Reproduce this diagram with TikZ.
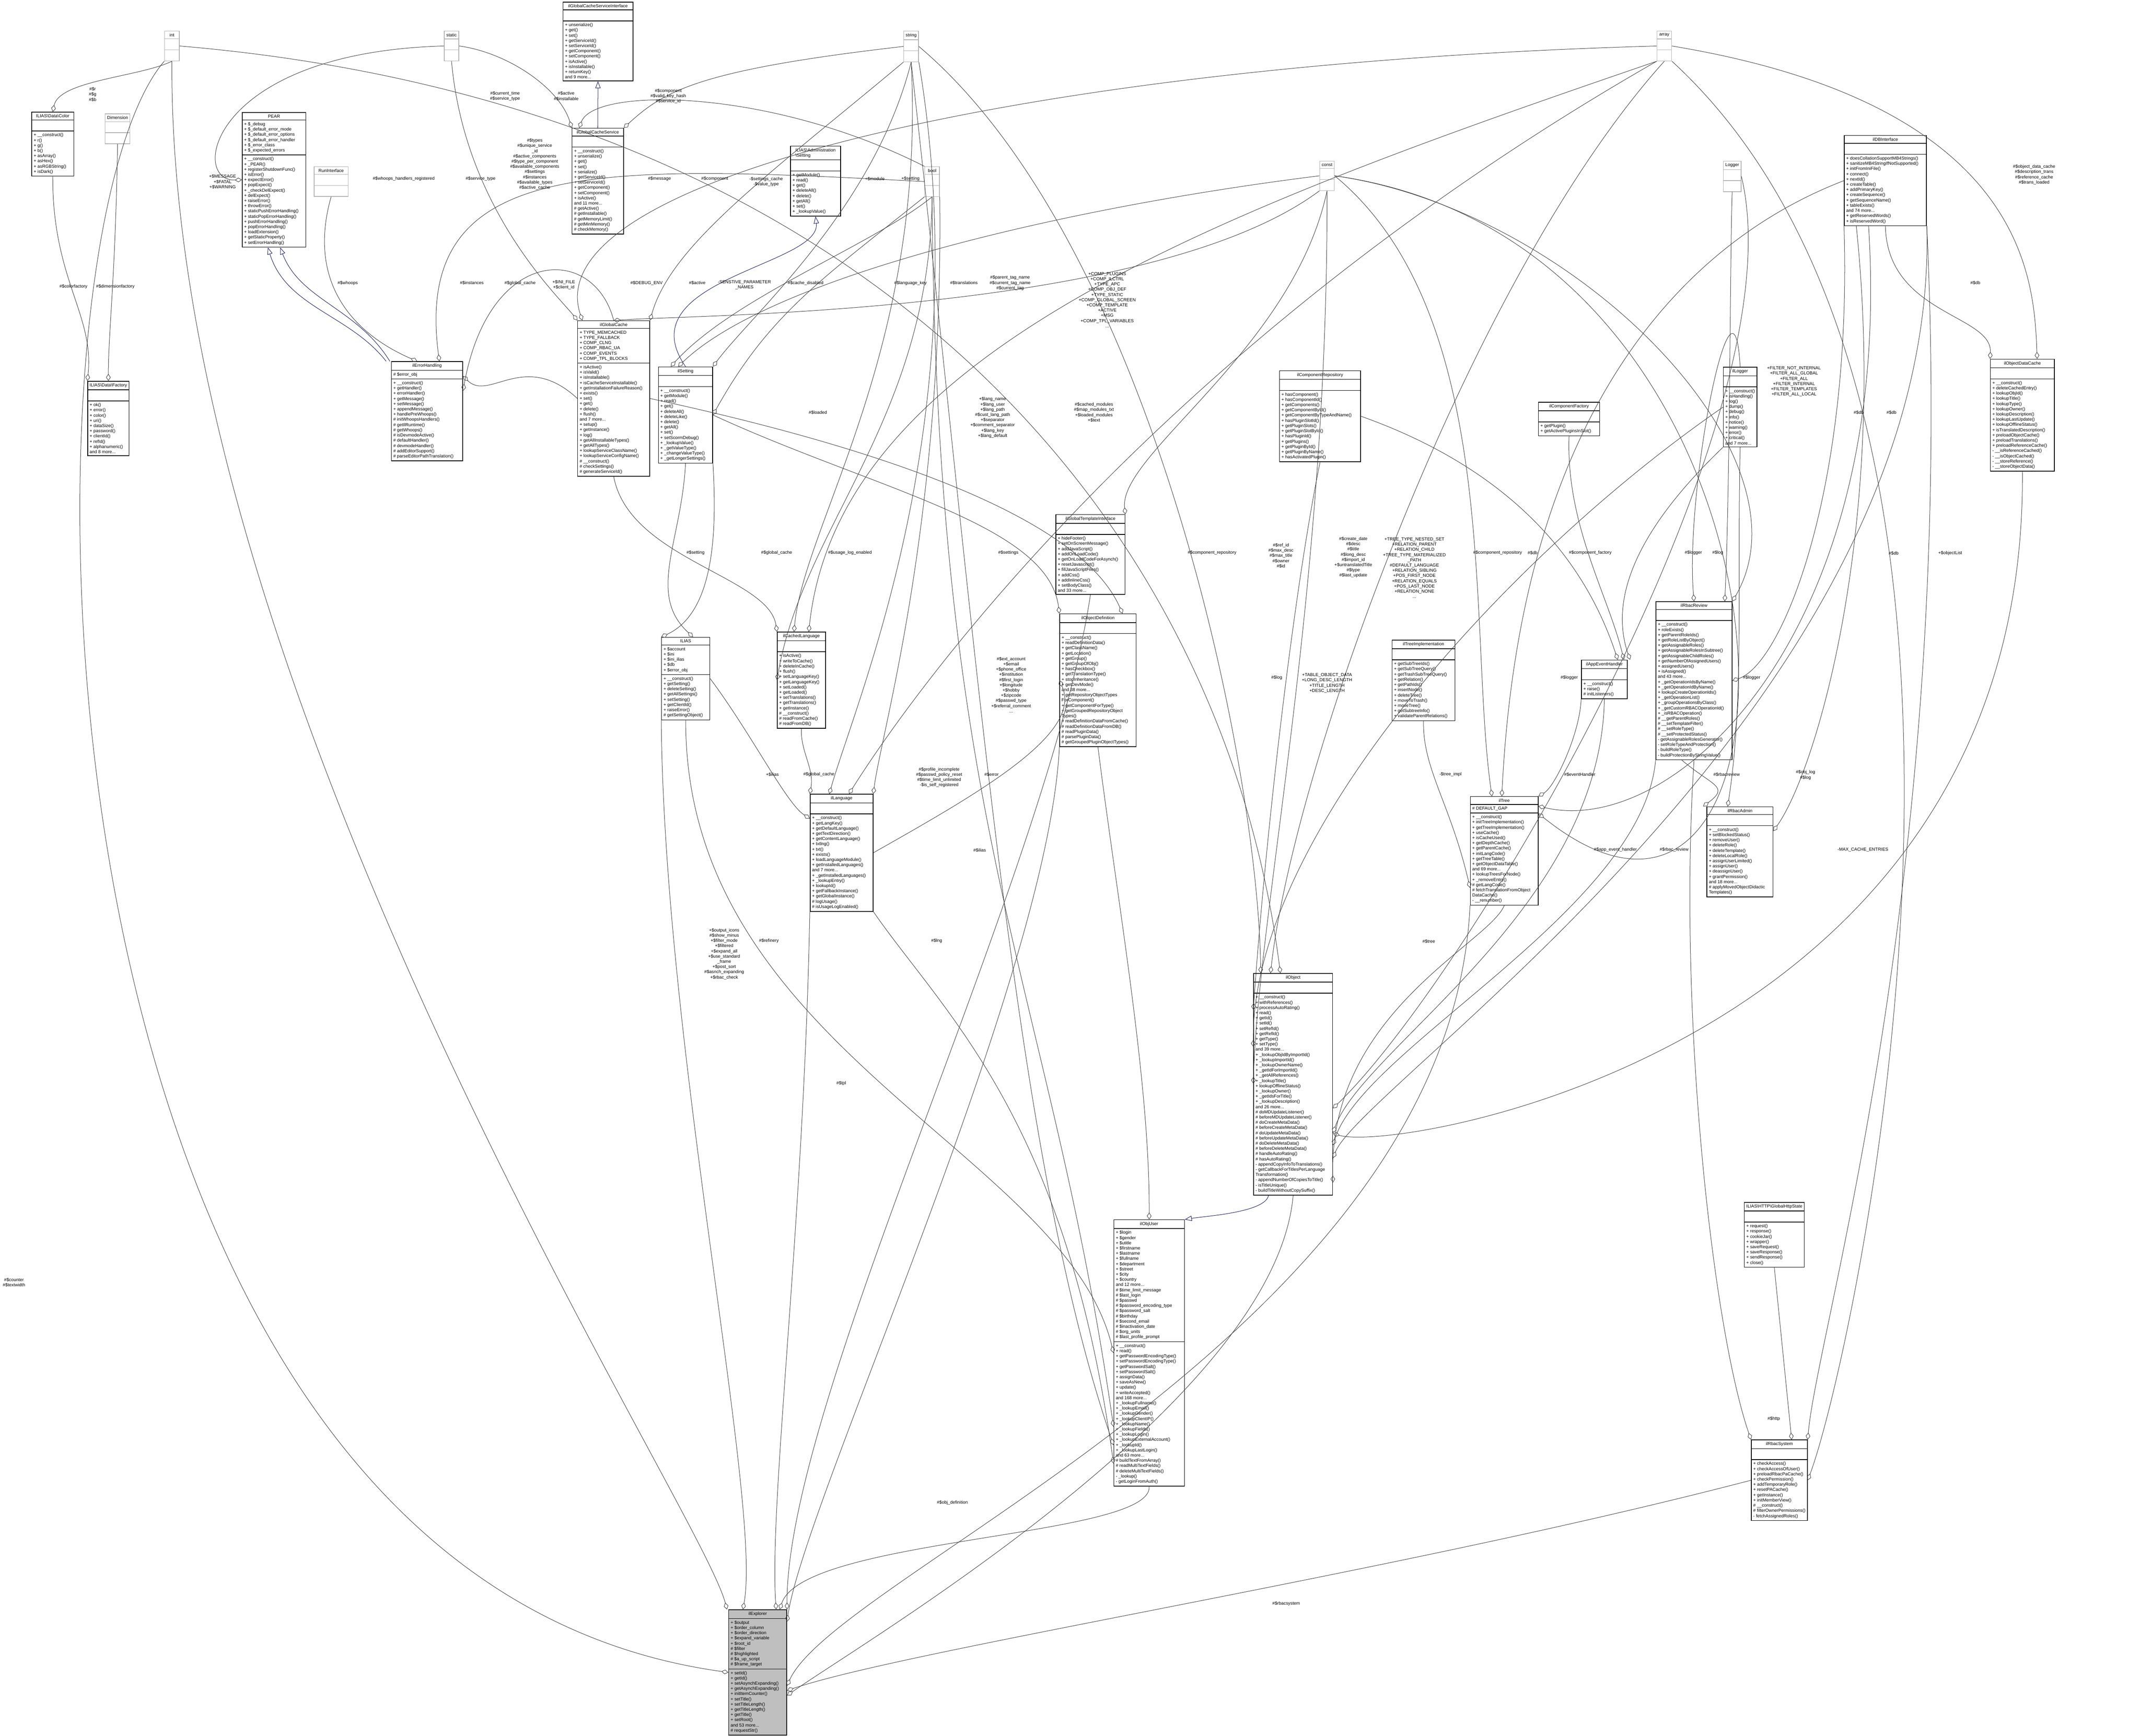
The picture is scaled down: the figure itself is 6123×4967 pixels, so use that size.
\documentclass[tikz,border=0pt]{standalone}
\usepackage{fontspec}
\setmainfont{Liberation Sans}
\usetikzlibrary{shapes.multipart, arrows.meta, positioning}
\definecolor{inhBlue}{RGB}{25, 25, 112}
\definecolor{edgeGray}{RGB}{64, 64, 64}

\begin{document}
\begin{tikzpicture}[
    x=0.01cm, y=-0.01cm,
    font=\fontsize{3.6}{4.25}\selectfont,
    % class box
    cls/.style={
        draw, line width=0.5pt,
        rectangle split, rectangle split parts=3,
        rectangle split part align={center,left,left},
        rectangle split empty part height=3pt,
        align=left, inner sep=1.6pt, anchor=north west
    },
    % external type box
    ext/.style={
        cls, draw=gray!60, minimum width=0.42cm,
        rectangle split empty part height=5pt
    },
    % edges
    agg/.style={-{Diamond[open,length=0.2cm,width=0.13cm]}, edgeGray, line width=0.35pt},
    inh/.style={-{Triangle[open,length=0.2cm,width=0.15cm]}, inhBlue, line width=0.35pt},
    lbl/.style={align=center, inner sep=0pt}
]
\useasboundingbox (0,0) rectangle (6123,4967);

% --- types at the top ---
\node[ext] (int_t) at (470,88) {int\nodepart{two}\nodepart{three}};
\node[ext] (static_t) at (1270,88) {static\nodepart{two}\nodepart{three}};
\node[ext] (string_t) at (2585,88) {string\nodepart{two}\nodepart{three}};
\node[ext] (array_t) at (4740,88) {array\nodepart{two}\nodepart{three}};
\node[ext] (bool_t) at (2645,476) {bool\nodepart{two}\nodepart{three}};
\node[ext] (const_t) at (3775,460) {const\nodepart{two}\nodepart{three}};
\node[ext] (logger_t) at (4930,460) {Logger\nodepart{two}\nodepart{three}};
\node[ext] (dimension) at (300,325) {Dimension\nodepart{two}\nodepart{three}};
\node[ext, minimum width=0.97cm] (runiface) at (898,476) {RunInterface\nodepart{two}\nodepart{three}};

% --- left column ---
\node[cls, minimum width=1.2cm] (color) at (90,320) {ILIAS\textbackslash Data\textbackslash Color
  \nodepart{two}
  \nodepart{three}+ \_\_construct()\\+ r()\\+ g()\\+ b()\\+ asArray()\\+ asHex()\\+ asRGBString()\\+ isDark()};

\node[cls, minimum width=1.15cm] (datafactory) at (250,1090) {ILIAS\textbackslash Data\textbackslash Factory
  \nodepart{two}
  \nodepart{three}+ ok()\\+ error()\\+ color()\\+ uri()\\+ dataSize()\\+ password()\\+ clientId()\\+ refId()\\+ alphanumeric()\\and 8 more...};

\node[cls, minimum width=1.82cm] (pear) at (692,321) {PEAR
  \nodepart{two}+ \$\_debug\\+ \$\_default\_error\_mode\\+ \$\_default\_error\_options\\+ \$\_default\_error\_handler\\+ \$\_error\_class\\+ \$\_expected\_errors
  \nodepart{three}+ \_\_construct()\\+ \_PEAR()\\+ registerShutdownFunc()\\+ isError()\\+ expectError()\\+ popExpect()\\+ \_checkDelExpect()\\+ delExpect()\\+ raiseError()\\+ throwError()\\+ staticPushErrorHandling()\\+ staticPopErrorHandling()\\+ pushErrorHandling()\\+ popErrorHandling()\\+ loadExtension()\\+ getStaticProperty()\\+ setErrorHandling()};

\node[cls, minimum width=2.04cm] (errh) at (1119,1034) {ilErrorHandling
  \nodepart{two}\# \$error\_obj
  \nodepart{three}+ \_\_construct()\\+ getHandler()\\+ errorHandler()\\+ getMessage()\\+ setMessage()\\+ appendMessage()\\+ handlePreWhoops()\\\# initWhoopsHandlers()\\\# getIlRuntime()\\\# getWhoops()\\\# isDevmodeActive()\\\# defaultHandler()\\\# devmodeHandler()\\\# addEditorSupport()\\\# parseEditorPathTranslation()};

% --- global cache ---
\node[cls, minimum width=2.0cm] (gcsi) at (1610,5) {ilGlobalCacheServiceInterface
  \nodepart{two}
  \nodepart{three}+ unserialize()\\+ get()\\+ set()\\+ getServiceId()\\+ setServiceId()\\+ getComponent()\\+ setComponent()\\+ isActive()\\+ isInstallable()\\+ returnKey()\\and 9 more...};

\node[cls, minimum width=1.47cm] (gcs) at (1636,366) {ilGlobalCacheService
  \nodepart{two}
  \nodepart{three}+ \_\_construct()\\+ unserialize()\\+ get()\\+ set()\\+ serialize()\\+ getServiceId()\\+ setServiceId()\\+ getComponent()\\+ setComponent()\\+ isActive()\\and 11 more...\\\# getActive()\\\# getInstallable()\\\# getMemoryLimit()\\\# getMinMemory()\\\# checkMemory()};

\node[cls, minimum width=2.06cm] (gcache) at (1652,917) {ilGlobalCache
  \nodepart{two}+ TYPE\_MEMCACHED\\+ TYPE\_FALLBACK\\+ COMP\_CLNG\\+ COMP\_RBAC\_UA\\+ COMP\_EVENTS\\+ COMP\_TPL\_BLOCKS
  \nodepart{three}+ isActive()\\+ isValid()\\+ isInstallable()\\+ isCacheServiceInstallable()\\+ getInstallationFailureReason()\\+ exists()\\+ set()\\+ get()\\+ delete()\\+ flush()\\and 7 more...\\+ setup()\\+ getInstance()\\+ log()\\+ getAllInstallableTypes()\\+ getAllTypes()\\+ lookupServiceClassName()\\+ lookupServiceConfigName()\\\# \_\_construct()\\\# checkSettings()\\\# generateServiceId()};

\node[cls, minimum width=1.55cm] (setting) at (1883,1049) {ilSetting
  \nodepart{two}
  \nodepart{three}+ \_\_construct()\\+ getModule()\\+ read()\\+ get()\\+ deleteAll()\\+ deleteLike()\\+ delete()\\+ getAll()\\+ set()\\+ setScormDebug()\\+ \_lookupValue()\\+ \_getValueType()\\+ \_changeValueType()\\+ \_getLongerSettings()};

\node[cls, minimum width=1.43cm] (admsetting) at (2261,417) {ILIAS\textbackslash Administration\\\textbackslash Setting
  \nodepart{two}
  \nodepart{three}+ getModule()\\+ read()\\+ get()\\+ deleteAll()\\+ delete()\\+ getAll()\\+ set()\\+ \_lookupValue()};

% --- language ---
\node[cls, minimum width=1.38cm] (ilias) at (1892,1823) {ILIAS
  \nodepart{two}+ \$account\\+ \$ini\\+ \$ini\_ilias\\+ \$db\\+ \$error\_obj
  \nodepart{three}+ \_\_construct()\\+ getSetting()\\+ deleteSetting()\\+ getAllSettings()\\+ setSetting()\\+ getClientId()\\+ raiseError()\\\# getSettingObject()};

\node[cls, minimum width=1.38cm] (cachedlang) at (2223,1808) {ilCachedLanguage
  \nodepart{two}
  \nodepart{three}+ isActive()\\+ writeToCache()\\+ deleteInCache()\\+ flush()\\+ setLanguageKey()\\+ getLanguageKey()\\+ setLoaded()\\+ getLoaded()\\+ setTranslations()\\+ getTranslations()\\+ getInstance()\\\# \_\_construct()\\\# readFromCache()\\\# readFromDB()};

\node[cls, minimum width=1.8cm] (lang) at (2317,2272) {ilLanguage
  \nodepart{two}
  \nodepart{three}+ \_\_construct()\\+ getLangKey()\\+ getDefaultLanguage()\\+ getTextDirection()\\+ getContentLanguage()\\+ txtlng()\\+ txt()\\+ exists()\\+ loadLanguageModule()\\+ getInstalledLanguages()\\and 7 more...\\+ \_getInstalledLanguages()\\+ \_lookupEntry()\\+ lookupId()\\+ getFallbackInstance()\\+ getGlobalInstance()\\\# logUsage()\\\# isUsageLogEnabled()};

\node[cls, minimum width=1.98cm] (gtpl) at (3020,1472) {ilGlobalTemplateInterface
  \nodepart{two}
  \nodepart{three}+ hideFooter()\\+ setOnScreenMessage()\\+ addJavaScript()\\+ addOnLoadCode()\\+ getOnLoadCodeForAsynch()\\+ resetJavascript()\\+ fillJavaScriptFiles()\\+ addCss()\\+ addInlineCss()\\+ setBodyClass()\\and 33 more...};

\node[cls, minimum width=2.19cm] (objdef) at (3031,1756) {ilObjectDefinition
  \nodepart{two}
  \nodepart{three}+ \_\_construct()\\+ readDefinitionData()\\+ getClassName()\\+ getLocation()\\+ getGroup()\\+ getGroupOfObj()\\+ hasCheckbox()\\+ getTranslationType()\\+ stopInheritance()\\+ getDevMode()\\and 38 more...\\+ getRepositoryObjectTypes\\ForComponent()\\+ getComponentForType()\\+ getGroupedRepositoryObject\\Types()\\\# readDefinitionDataFromCache()\\\# readDefinitionDataFromDB()\\\# readPluginData()\\\# parsePluginData()\\\# getGroupedPluginObjectTypes()};

% --- components, tree, rbac ---
\node[cls, minimum width=2.32cm] (comprepo) at (3660,1060) {ilComponentRepository
  \nodepart{two}
  \nodepart{three}+ hasComponent()\\+ hasComponentId()\\+ getComponents()\\+ getComponentById()\\+ getComponentByTypeAndName()\\+ hasPluginSlotId()\\+ getPluginSlots()\\+ getPluginSlotById()\\+ hasPluginId()\\+ getPlugins()\\+ getPluginById()\\+ getPluginByName()\\+ hasActivatedPlugin()};

\node[cls, minimum width=1.75cm] (compfact) at (4401,1150) {ilComponentFactory
  \nodepart{two}
  \nodepart{three}+ getPlugin()\\+ getActivePluginsInSlot()};

\node[cls, minimum width=0.8cm] (logger) at (4930,1050) {ilLogger
  \nodepart{two}
  \nodepart{three}+ \_\_construct()\\+ isHandling()\\+ log()\\+ dump()\\+ debug()\\+ info()\\+ notice()\\+ warning()\\+ error()\\+ critical()\\and 7 more...};

\node[cls, minimum width=1.8cm] (treeimpl) at (3982,1831) {ilTreeImplementation
  \nodepart{two}
  \nodepart{three}+ getSubTreeIds()\\+ getSubTreeQuery()\\+ getTrashSubTreeQuery()\\+ getRelation()\\+ getPathIds()\\+ insertNode()\\+ deleteTree()\\+ moveToTrash()\\+ moveTree()\\+ getSubtreeInfo()\\+ validateParentRelations()};

\node[cls, minimum width=1.31cm] (appevent) at (4524,1888) {ilAppEventHandler
  \nodepart{two}
  \nodepart{three}+ \_\_construct()\\+ raise()\\\# initListeners()};

\node[cls, minimum width=1.94cm] (tree) at (4206,2279) {ilTree
  \nodepart{two}\# DEFAULT\_GAP
  \nodepart{three}+ \_\_construct()\\+ initTreeImplementation()\\+ getTreeImplementation()\\+ useCache()\\+ isCacheUsed()\\+ getDepthCache()\\+ getParentCache()\\+ initLangCode()\\+ getTreeTable()\\+ getObjectDataTable()\\and 69 more...\\+ lookupTreesForNode()\\+ \_removeEntry()\\\# getLangCode()\\\# fetchTranslationFromObject\\DataCache()\\- \_\_renumber()};

\node[cls, minimum width=2.18cm] (rbacreview) at (4737,1721) {ilRbacReview
  \nodepart{two}
  \nodepart{three}+ \_\_construct()\\+ roleExists()\\+ getParentRoleIds()\\+ getRoleListByObject()\\+ getAssignableRoles()\\+ getAssignableRolesInSubtree()\\+ getAssignableChildRoles()\\+ getNumberOfAssignedUsers()\\+ assignedUsers()\\+ isAssigned()\\and 43 more...\\+ \_getOperationIdsByName()\\+ \_getOperationIdByName()\\+ lookupCreateOperationIds()\\+ \_getOperationList()\\+ \_groupOperationsByClass()\\+ \_getCustomRBACOperationId()\\+ \_isRBACOperation()\\\# \_\_getParentRoles()\\\# \_\_setTemplateFilter()\\\# \_\_setRoleType()\\\# \_\_setProtectedStatus()\\- getAssignableRolesGenerator()\\- setRoleTypeAndProtection()\\- buildRoleType()\\- buildProtectionByStringValue()};

\node[cls, minimum width=1.89cm] (rbacadmin) at (4883,2308) {ilRbacAdmin
  \nodepart{two}
  \nodepart{three}+ \_\_construct()\\+ setBlockedStatus()\\+ removeUser()\\+ deleteRole()\\+ deleteTemplate()\\+ deleteLocalRole()\\+ assignUserLimited()\\+ assignUser()\\+ deassignUser()\\+ grantPermission()\\and 18 more...\\\# applyMovedObjectDidactic\\Templates()};

\node[cls, minimum width=2.35cm] (dbi) at (5276,387) {ilDBInterface
  \nodepart{two}
  \nodepart{three}+ doesCollationSupportMB4Strings()\\+ sanitizeMB4StringIfNotSupported()\\+ initFromIniFile()\\+ connect()\\+ nextId()\\+ createTable()\\+ addPrimaryKey()\\+ createSequence()\\+ getSequenceName()\\+ tableExists()\\and 74 more...\\+ getReservedWords()\\+ isReservedWord()};

\node[cls, minimum width=1.83cm] (odc) at (5694,1027) {ilObjectDataCache
  \nodepart{two}
  \nodepart{three}+ \_\_construct()\\+ deleteCachedEntry()\\+ lookupObjId()\\+ lookupTitle()\\+ lookupType()\\+ lookupOwner()\\+ lookupDescription()\\+ lookupLastUpdate()\\+ lookupOfflineStatus()\\+ isTranslatedDescription()\\+ preloadObjectCache()\\+ preloadTranslations()\\+ preloadReferenceCache()\\- \_\_isReferenceCached()\\- \_\_isObjectCached()\\- \_\_storeReference()\\- \_\_storeObjectData()};

\node[cls, minimum width=1.3cm] (httpstate) at (4990,3440) {ILIAS\textbackslash HTTP\textbackslash GlobalHttpState
  \nodepart{two}
  \nodepart{three}+ request()\\+ response()\\+ cookieJar()\\+ wrapper()\\+ saveRequest()\\+ saveResponse()\\+ sendResponse()\\+ close()};

\node[cls, minimum width=1.4cm] (rbacsys) at (5010,4120) {ilRbacSystem
  \nodepart{two}
  \nodepart{three}+ checkAccess()\\+ checkAccessOfUser()\\+ preloadRbacPaCache()\\+ checkPermission()\\+ addTemporaryRole()\\+ resetPACache()\\+ getInstance()\\+ initMemberView()\\\# \_\_construct()\\\# filterOwnerPermissions()\\- fetchAssignedRoles()};

% --- objects ---
\node[cls, minimum width=2.26cm] (object) at (3586,2785) {ilObject
  \nodepart{two}
  \nodepart{three}+ \_\_construct()\\+ withReferences()\\+ processAutoRating()\\+ read()\\+ getId()\\+ setId()\\+ setRefId()\\+ getRefId()\\+ getType()\\+ setType()\\and 39 more...\\+ \_lookupObjIdByImportId()\\+ \_lookupImportId()\\+ \_lookupOwnerName()\\+ \_getIdForImportId()\\+ \_getAllReferences()\\+ \_lookupTitle()\\+ lookupOfflineStatus()\\+ \_lookupOwner()\\+ \_getIdsForTitle()\\+ \_lookupDescription()\\and 26 more...\\\# doMDUpdateListener()\\\# beforeMDUpdateListener()\\\# doCreateMetaData()\\\# beforeCreateMetaData()\\\# doUpdateMetaData()\\\# beforeUpdateMetaData()\\\# doDeleteMetaData()\\\# beforeDeleteMetaData()\\\# handleAutoRating()\\\# hasAutoRating()\\- appendCopyInfoToTranslations()\\- getCallbackForTitlesPerLanguage\\Transformation()\\- appendNumberOfCopiesToTitle()\\- isTitleUnique()\\- buildTitleWithoutCopySuffix()};

\node[cls, minimum width=2.02cm] (objuser) at (3186,3490) {ilObjUser
  \nodepart{two}+ \$login\\+ \$gender\\+ \$utitle\\+ \$firstname\\+ \$lastname\\+ \$fullname\\+ \$department\\+ \$street\\+ \$city\\+ \$country\\and 12 more...\\\# \$time\_limit\_message\\\# \$last\_login\\\# \$passwd\\\# \$password\_encoding\_type\\\# \$password\_salt\\\# \$birthday\\\# \$second\_email\\\# \$inactivation\_date\\\# \$org\_units\\\# \$last\_profile\_prompt
  \nodepart{three}+ \_\_construct()\\+ read()\\+ getPasswordEncodingType()\\+ setPasswordEncodingType()\\+ getPasswordSalt()\\+ setPasswordSalt()\\+ assignData()\\+ saveAsNew()\\+ update()\\+ writeAccepted()\\and 168 more...\\+ \_lookupFullname()\\+ \_lookupEmail()\\+ \_lookupGender()\\+ \_lookupClientIP()\\+ \_lookupName()\\+ \_lookupFields()\\+ \_lookupLogin()\\+ \_lookupExternalAccount()\\+ \_lookupId()\\+ \_lookupLastLogin()\\and 63 more...\\\# buildTextFromArray()\\\# readMultiTextFields()\\\# deleteMultiTextFields()\\- \_lookup()\\- getLoginFromAuth()};

\node[cls, fill=gray!50, minimum width=1.66cm] (explorer) at (2084,4606) {ilExplorer
  \nodepart{two}+ \$output\\+ \$order\_column\\+ \$order\_direction\\+ \$expand\_variable\\+ \$root\_id\\\# \$filter\\\# \$highlighted\\\# \$a\_up\_script\\\# \$frame\_target
  \nodepart{three}+ setId()\\+ getId()\\+ setAsynchExpanding()\\+ getAsynchExpanding()\\+ initItemCounter()\\+ setTitle()\\+ setTitleLength()\\+ getTitleLength()\\+ getTitle()\\+ setRoot()\\and 53 more...\\\# requestStr()};

% --- inheritance ---
\draw[inh] ([xshift=-4pt]errh.north west) .. controls (1000,900) and (820,880) .. ([xshift=-5pt]pear.south);
\draw[inh] ([xshift=-1pt]errh.north west) .. controls (1020,880) and (860,860) .. ([xshift=5pt]pear.south);
\draw[inh] (gcs.north) -- (gcsi.south);
\draw[inh] (setting.north) .. controls (1790,800) and (2350,760) .. (admsetting.south);
\draw[inh] ([xshift=-20pt]object.south) .. controls (3620,3470) and (3450,3480) .. (objuser.north east);

% --- aggregation: left part ---
\draw[agg] (int_t.south) .. controls (400,220) and (170,230) .. (color.north);
\draw[agg] (int_t.south west) .. controls (20,700) and (20,4500) .. (explorer.west);
\draw[agg] (static_t.west) .. controls (600,150) and (540,520) .. (pear.west);
\draw[agg] (color.south) .. controls (150,800) and (270,900) .. (datafactory.north west);
\draw[agg] (dimension.south) .. controls (330,800) and (310,950) .. (datafactory.north);
\draw[agg] (runiface.south) .. controls (880,800) and (1000,950) .. ([xshift=-8pt]errh.north);
\draw[agg] (bool_t.west) .. controls (1700,470) and (1180,450) .. ([xshift=10pt]errh.north);
\draw[agg] (static_t.south) .. controls (1330,600) and (1600,850) .. (gcache.north west);
\draw[agg] (array_t.west) .. controls (3000,180) and (1530,500) .. ([xshift=4pt]gcache.north west);
\draw[agg] (static_t.east) .. controls (1450,150) and (1600,250) .. (gcs.north west);
\draw[agg] (bool_t.north west) .. controls (2200,250) and (1700,250) .. ([xshift=6pt]gcs.north west);
\draw[agg] (string_t.west) .. controls (2000,200) and (1900,260) .. (gcs.north east);
\draw[agg] (gcache.west) .. controls (1500,1000) and (1400,1150) .. ([yshift=-12pt]errh.north east);
\draw[agg] (gcache.north) .. controls (1700,700) and (1400,700) .. ([yshift=-24pt]errh.north east);
\draw[agg] (string_t.south west) .. controls (2200,500) and (1920,700) .. (gcache.north east);
\draw[agg] (bool_t.south) .. controls (2500,700) and (2100,850) .. ([xshift=-12pt]setting.north);
\draw[agg] (const_t.west) .. controls (3000,600) and (2200,800) .. ([xshift=-6pt]setting.north);
\draw[agg] (string_t.south) .. controls (2500,600) and (2150,900) .. (setting.north east);
\draw[agg] (bool_t.south west) .. controls (2350,800) and (2200,900) .. (setting.east);
\draw[agg] (const_t.south west) .. controls (3300,900) and (2000,900) .. (gcache.north);

% --- aggregation: language ---
\draw[agg] (setting.south) .. controls (1950,1550) and (1850,1700) .. ([xshift=6pt]ilias.north);
\draw[agg] (setting.south east) .. controls (2050,1500) and (2050,1750) .. (ilias.north west);
\draw[agg] (gcache.south) .. controls (1800,1600) and (2200,1650) .. (cachedlang.north west);
\draw[agg] (string_t.south) .. controls (2650,1000) and (2300,1500) .. ([xshift=-6pt]cachedlang.north);
\draw[agg] (array_t.south west) .. controls (3500,600) and (2400,1000) .. ([xshift=6pt]cachedlang.north);
\draw[agg] (bool_t.south) .. controls (2660,1200) and (2300,1500) .. (cachedlang.west);
\draw[agg] (cachedlang.south) .. controls (2290,2150) and (2330,2200) .. (lang.north west);
\draw[agg] (ilias.east) .. controls (2150,2100) and (2250,2300) .. ([yshift=-20pt]lang.north west);
\draw[agg] (string_t.south east) .. controls (2800,1200) and (2450,2000) .. ([xshift=-10pt]lang.north);
\draw[agg] (array_t.south west) .. controls (3300,1000) and (2600,2000) .. ([xshift=6pt]lang.north);
\draw[agg] (bool_t.south east) .. controls (2700,1500) and (2520,2100) .. (lang.north east);
\draw[agg] (setting.east) .. controls (2500,1400) and (3000,1500) .. (objdef.north west);
\draw[agg] (gcache.east) .. controls (2600,1300) and (3100,1500) .. ([xshift=20pt]objdef.north);
\draw[agg] (const_t.south) .. controls (3700,1000) and (3200,1300) .. (gtpl.north east);
\draw[agg] (lang.east) .. controls (2800,2270) and (3100,2100) .. (objdef.west);

% --- aggregation: components, tree, rbac ---
\draw[agg] (string_t.east) .. controls (3300,700) and (3600,2200) .. ([xshift=6pt]object.north west);
\draw[agg] (array_t.south) .. controls (4200,800) and (3700,2200) .. ([xshift=14pt]object.north west);
\draw[agg] (int_t.east) .. controls (2500,300) and (3500,1500) .. ([xshift=22pt]object.north west);
\draw[agg] (comprepo.south) .. controls (3700,1700) and (3620,2400) .. ([yshift=-30pt]object.north west);
\draw[agg] (logger.west) .. controls (4300,1600) and (3580,2400) .. ([yshift=-60pt]object.north west);
\draw[agg] (const_t.south) .. controls (3800,1700) and (3600,2600) .. ([yshift=-90pt]object.north west);
\draw[agg] (const_t.east) .. controls (4300,900) and (4200,1800) .. ([xshift=-10pt]tree.north);
\draw[agg] (comprepo.east) .. controls (4200,1300) and (4500,1500) .. ([xshift=-8pt]appevent.north east);
\draw[agg] (compfact.south) .. controls (4480,1500) and (4600,1700) .. ([xshift=-3pt]appevent.north east);
\draw[agg] (logger.south west) .. controls (4700,1500) and (4600,1700) .. ([xshift=2pt]appevent.north east);
\draw[agg] (dbi.west) .. controls (4800,700) and (4350,1200) .. ([xshift=-2pt]tree.north);
\draw[agg] (treeimpl.south) .. controls (4070,2200) and (4150,2300) .. ([yshift=-30pt]tree.west);
\draw[agg] (appevent.south west) .. controls (4520,2100) and (4450,2250) .. (tree.north east);
\draw[agg] (logger.north) .. controls (4960,700) and (4820,1400) .. (rbacreview.north);
\draw[agg] (logger_t.south) .. controls (4950,700) and (4950,1400) .. ([xshift=25pt]rbacreview.north);
\draw[agg] (logger.south) .. controls (4970,1700) and (4990,2000) .. ([xshift=-10pt]rbacadmin.north);
\draw[agg] ([xshift=-10pt]rbacreview.south) .. controls (4900,2250) and (4950,2250) .. ([xshift=-30pt]rbacadmin.north);
\draw[agg] (appevent.south) .. controls (4580,2600) and (3900,3000) .. ([yshift=-130pt]object.north east);
\draw[agg] (rbacreview.south west) .. controls (4700,2600) and (3900,3000) .. ([yshift=-140pt]object.north east);
\draw[agg] (logger_t.east) .. controls (5150,1200) and (4200,2800) .. ([yshift=-110pt]object.north east);
\draw[agg] (dbi.south) .. controls (5400,900) and (5700,900) .. (odc.north west);
\draw[agg] (array_t.east) .. controls (5800,300) and (5820,800) .. ([xshift=12pt]odc.north);
\draw[agg] (const_t.east) .. controls (4500,600) and (5200,1300) .. (rbacreview.north east);
\draw[agg] (dbi.south west) .. controls (5300,1400) and (5100,1900) .. (rbacreview.east);
\draw[agg] ([xshift=10pt]dbi.south west) .. controls (5400,1500) and (5200,2200) .. ([yshift=-20pt]rbacadmin.north east);
\draw[agg] ([xshift=20pt]dbi.south west) .. controls (5420,1800) and (4800,2400) .. ([yshift=-8pt]tree.north east);
\draw[agg] (const_t.east) .. controls (5240,700) and (5240,3000) .. ([yshift=-14pt]tree.north east);

% --- aggregation: down to the users ---
\draw[agg] (odc.south) .. controls (5800,3000) and (4000,3300) .. ([yshift=-40pt]object.east);
\draw[agg] (dbi.south east) .. controls (5550,2000) and (3900,3100) .. ([yshift=-60pt]object.east);
\draw[agg] (tree.south) .. controls (4260,2700) and (3800,2900) .. ([yshift=-80pt]object.east);
\draw[agg] (rbacreview.south) .. controls (4800,2900) and (4900,3800) .. (rbacsys.north west);
\draw[agg] (httpstate.south) -- ([xshift=10pt]rbacsys.north);
\draw[agg] (dbi.south east) .. controls (5600,2500) and (5200,3800) .. (rbacsys.north east);
\draw[agg] (array_t.south east) .. controls (5900,1200) and (5300,3900) .. (rbacsys.east);
\draw[agg] (ilias.south) .. controls (1960,3000) and (3050,3300) .. (objuser.west);
\draw[agg] (bool_t.south) .. controls (2680,2400) and (3000,2800) .. ([yshift=-60pt]objuser.west);
\draw[agg] (string_t.south) .. controls (2800,1900) and (2900,3300) .. ([yshift=-75pt]objuser.west);
\draw[agg] (lang.south east) .. controls (2700,2900) and (3050,3200) .. ([yshift=-90pt]objuser.west);
\draw[agg] (objdef.south) .. controls (3200,2600) and (3290,3100) .. (objuser.north);
\draw[agg] (objuser.south) .. controls (3300,4400) and (2300,4400) .. ([xshift=-6pt]explorer.north east);
\draw[agg] (int_t.south) .. controls (480,2000) and (2000,4300) .. ([xshift=-25pt]explorer.north);
\draw[agg] (ilias.south west) .. controls (1900,3000) and (2180,4300) .. ([xshift=-12pt]explorer.north);
\draw[agg] (lang.south west) .. controls (2300,3500) and (2200,4300) .. ([xshift=15pt]explorer.north);
\draw[agg] (gtpl.south) .. controls (3000,2500) and (2250,4000) .. (explorer.north east);
\draw[agg] (objdef.south west) .. controls (3000,2800) and (2300,4300) .. ([yshift=-10pt]explorer.north east);
\draw[agg] (tree.south west) .. controls (4150,3800) and (2400,4500) .. ([yshift=-62pt]explorer.north east);
\draw[agg] (rbacsys.west) .. controls (4000,4500) and (2600,4720) .. ([yshift=-66pt]explorer.north east);
\draw[agg] (object.south) .. controls (3650,4000) and (2500,4680) .. ([yshift=-70pt]explorer.north east);

% --- edge labels ---
\node[lbl] at (265,270) {\#\$r\\\#\$g\\\#\$b};
\node[lbl] at (637,520) {+\$MESSAGE\\+\$FATAL\\+\$WARNING};
\node[lbl] at (210,820) {\#\$colorfactory};
\node[lbl] at (330,820) {\#\$dimensionfactory};
\node[lbl] at (995,810) {\#\$whoops};
\node[lbl] at (1155,512) {\#\$whoops\_handlers\_registered};
\node[lbl] at (1375,512) {\#\$service\_type};
\node[lbl] at (1530,470) {\#\$types\\\#\$unique\_service\\\_id\\\#\$active\_components\\\#\$type\_per\_component\\\#\$available\_components\\\#\$settings\\\#\$instances\\\#\$available\_types\\\#\$active\_cache};
\node[lbl] at (1445,275) {\#\$current\_time\\\#\$service\_type};
\node[lbl] at (1620,275) {\#\$active\\\#\$installable};
\node[lbl] at (1912,275) {\#\$component\\\#\$valid\_key\_hash\\\#\$service\_id};
\node[lbl] at (1350,810) {\#\$instances};
\node[lbl] at (1488,810) {\#\$global\_cache};
\node[lbl] at (1613,815) {+\$INI\_FILE\\+\$client\_id};
\node[lbl] at (1887,512) {\#\$message};
\node[lbl] at (2045,512) {\#\$component};
\node[lbl] at (2192,520) {-\$settings\_cache\\-\$value\_type};
\node[lbl] at (1850,810) {\#\$DEBUG\_ENV};
\node[lbl] at (1995,810) {\#\$active};
\node[lbl] at (2130,815) {-SENSTIVE\_PARAMETER\\\_NAMES};
\node[lbl] at (2305,810) {\#\$cache\_disabled};
\node[lbl] at (2503,512) {+\$module};
\node[lbl] at (2605,512) {+\$setting};
\node[lbl] at (2605,810) {\#\$language\_key};
\node[lbl] at (2758,810) {\#\$translations};
\node[lbl] at (2890,810) {\#\$parent\_tag\_name\\\#\$current\_tag\_name\\\#\$current\_tag};
\node[lbl] at (3168,858) {+COMP\_PLUGINS\\+COMP\_ILCTRL\\+TYPE\_APC\\+COMP\_OBJ\_DEF\\+TYPE\_STATIC\\+COMP\_GLOBAL\_SCREEN\\+COMP\_TEMPLATE\\+ACTIVE\\+MSG\\+COMP\_TPL\_VARIABLES\\...};
\node[lbl] at (2840,1195) {+\$lang\_name\\+\$lang\_user\\+\$lang\_path\\\#\$cust\_lang\_path\\+\$separator\\+\$comment\_separator\\+\$lang\_key\\+\$lang\_default};
\node[lbl] at (3130,1180) {\#\$cached\_modules\\\#\$map\_modules\_txt\\+\$loaded\_modules\\+\$text};
\node[lbl] at (2340,1180) {\#\$loaded};
\node[lbl] at (1990,1582) {\#\$setting};
\node[lbl] at (2222,1582) {\#\$global\_cache};
\node[lbl] at (2432,1582) {\#\$usage\_log\_enabled};
\node[lbl] at (2885,1582) {\#\$settings};
\node[lbl] at (2893,1960) {\#\$ext\_account\\+\$email\\+\$phone\_office\\+\$institution\\\#\$first\_login\\+\$longitude\\+\$hobby\\+\$zipcode\\\#\$passwd\_type\\+\$referral\_comment\\...};
\node[lbl] at (2210,2216) {+\$ilias};
\node[lbl] at (2343,2216) {\#\$global\_cache};
\node[lbl] at (2687,2225) {\#\$profile\_incomplete\\\#\$passwd\_policy\_reset\\\#\$time\_limit\_unlimited\\-\$is\_self\_registered};
\node[lbl] at (2837,2216) {\#\$error};
\node[lbl] at (2803,2433) {\#\$ilias};
\node[lbl] at (2072,2730) {+\$output\_icons\\\#\$show\_minus\\+\$filter\_mode\\+\$filtered\\+\$expand\_all\\+\$use\_standard\\\_frame\\+\$post\_sort\\\#\$asnch\_expanding\\+\$rbac\_check};
\node[lbl] at (2200,2693) {\#\$refinery};
\node[lbl] at (2680,2693) {\#\$lng};
\node[lbl] at (2407,3100) {\#\$tpl};
\node[lbl] at (3468,1582) {\#\$component\_repository};
\node[lbl] at (3665,1590) {\#\$ref\_id\\\#\$max\_desc\\\#\$max\_title\\\#\$owner\\\#\$id};
\node[lbl] at (3872,1595) {\#\$create\_date\\\#\$desc\\\#\$title\\\#\$long\_desc\\\#\$import\_id\\+\$untranslatedTitle\\\#\$type\\\#\$last\_update};
\node[lbl] at (4047,1625) {+TREE\_TYPE\_NESTED\_SET\\+RELATION\_PARENT\\+RELATION\_CHILD\\+TREE\_TYPE\_MATERIALIZED\\\_PATH\\\#DEFAULT\_LANGUAGE\\+RELATION\_SIBLING\\+POS\_FIRST\_NODE\\+RELATION\_EQUALS\\+POS\_LAST\_NODE\\+RELATION\_NONE\\...};
\node[lbl] at (4285,1582) {\#\$component\_repository};
\node[lbl] at (4385,1582) {\#\$db};
\node[lbl] at (4550,1582) {\#\$component\_factory};
\node[lbl] at (3653,1940) {\#\$log};
\node[lbl] at (3797,1955) {+TABLE\_OBJECT\_DATA\\+LONG\_DESC\_LENGTH\\+TITLE\_LENGTH\\+DESC\_LENGTH};
\node[lbl] at (4490,1940) {\#\$logger};
\node[lbl] at (4150,2216) {-\$tree\_impl};
\node[lbl] at (4520,2216) {\#\$eventHandler};
\node[lbl] at (4622,2432) {\#\$app\_event\_handler};
\node[lbl] at (4790,2432) {\#\$rbac\_review};
\node[lbl] at (4845,1582) {\#\$logger};
\node[lbl] at (4915,1582) {\#\$log};
\node[lbl] at (5012,1940) {\#\$logger};
\node[lbl] at (4940,2216) {\#\$rbacreview};
\node[lbl] at (5166,2218) {\#\$obj\_log\\\#\$log};
\node[lbl] at (5330,2432) {-MAX\_CACHE\_ENTRIES};
\node[lbl] at (5820,500) {\#\$object\_data\_cache\\\#\$description\_trans\\\#\$reference\_cache\\\#\$trans\_loaded};
\node[lbl] at (5652,810) {\#\$db};
\node[lbl] at (5133,1092) {+FILTER\_NOT\_INTERNAL\\+FILTER\_ALL\_GLOBAL\\+FILTER\_ALL\\+FILTER\_INTERNAL\\+FILTER\_TEMPLATES\\+FILTER\_ALL\_LOCAL};
\node[lbl] at (5318,1180) {\#\$db};
\node[lbl] at (5412,1180) {\#\$db};
\node[lbl] at (5418,1583) {\#\$db};
\node[lbl] at (5580,1583) {+\$objectList};
\node[lbl] at (4088,2694) {\#\$tree};
\node[lbl] at (40,3670) {\#\$counter\\\#\$textwidth};
\node[lbl] at (5075,4060) {\#\$http};
\node[lbl] at (3680,4590) {\#\$rbacsystem};
\node[lbl] at (2725,4300) {\#\$obj\_definition};

\end{tikzpicture}
\end{document}
